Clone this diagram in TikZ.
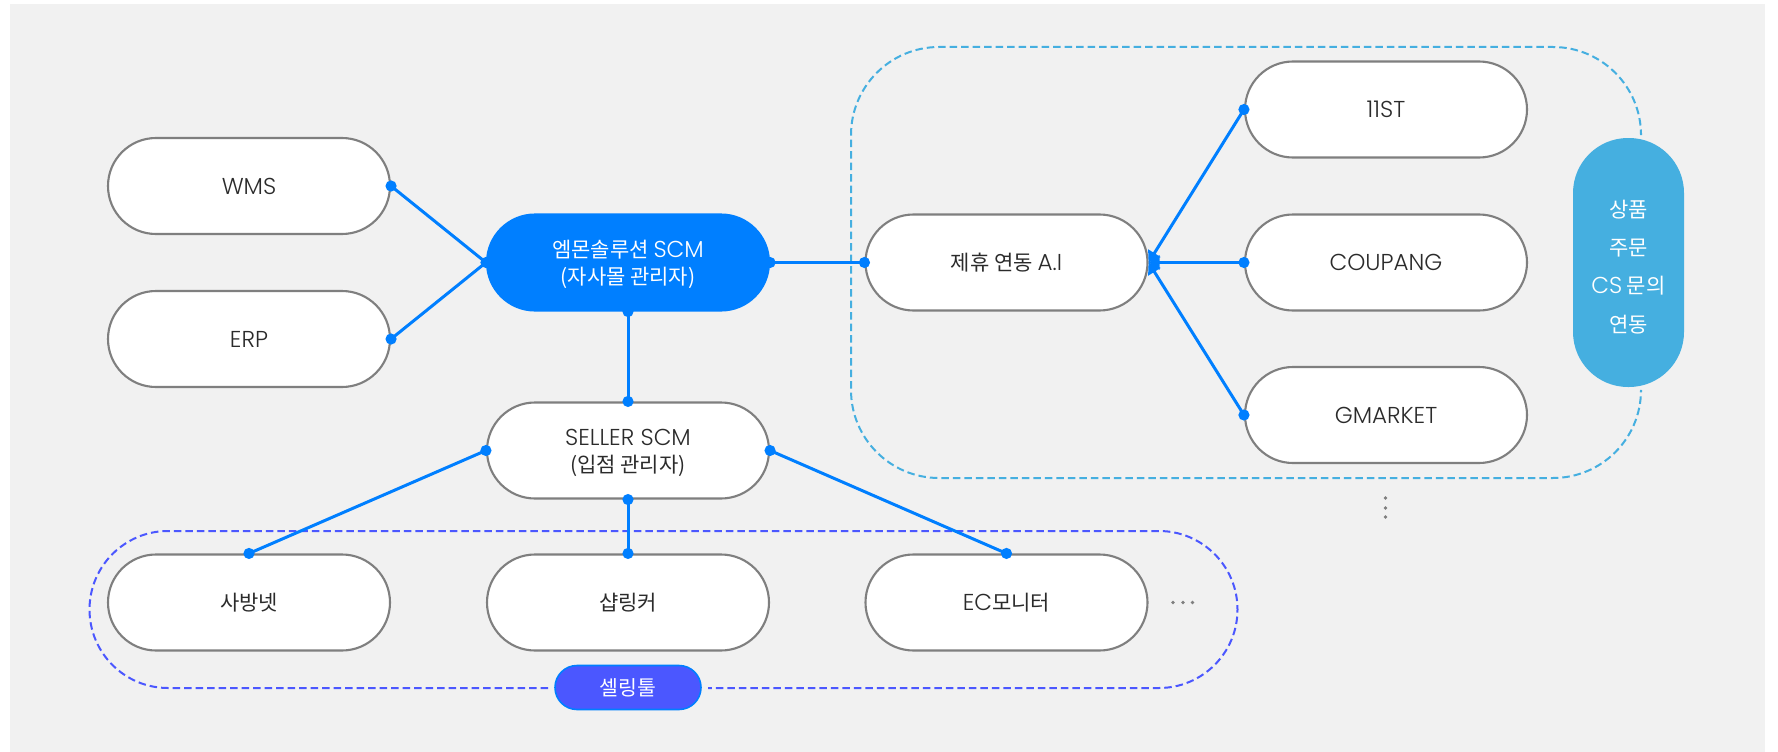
\documentclass[tikz,border=0pt]{standalone}
\usepackage{fontspec}
\setmainfont{Noto Sans CJK KR}
\newfontfamily\latinlight{Poppins Light}
\newcommand{\la}[1]{{\latinlight\fontsize{23}{26.5}\selectfont #1}}
\usetikzlibrary{arrows.meta}
\definecolor{pagebg}{HTML}{F1F1F1}
\definecolor{linkblue}{HTML}{007FFF}
\definecolor{skyblue}{HTML}{45AFE0}
\definecolor{violet}{HTML}{4B57FF}
\definecolor{pillgray}{HTML}{7F7F7F}
\definecolor{inktext}{HTML}{2B2B2B}
\newcommand{\linkdot}[1]{\fill[linkblue] (#1) circle (5.6);}
\tikzset{
  x=1pt,y=-1pt,
  pill/.style={rectangle,rounded corners=48pt,minimum width=282pt,minimum height=96pt,inner sep=0pt,
    draw=pillgray,line width=2.1pt,fill=white,text=inktext,align=center,font=\fontsize{21}{26.5}\selectfont,
    text height=20pt,text depth=4pt},
  twolines/.style={text height=50pt,text depth=7pt},
  link/.style={draw=linkblue,line width=3pt},
  linkin/.style={link,-{Triangle[length=11pt,width=14pt]}},
  ringa/.style={draw=skyblue,line width=2pt,dash pattern=on 7.5pt off 4pt},
  ringb/.style={draw=violet,line width=2pt,dash pattern=on 7.5pt off 4pt},
  dotty/.style={fill=pillgray,circle,inner sep=0pt,minimum size=3.8pt},
}
\begin{document}
\begin{tikzpicture}
\useasboundingbox (0,0) rectangle (1778,752);
\fill[white] (0,0) rectangle (1778,752);
\fill[pagebg] (10,4) rectangle (1765,752);
% dashed groups
\draw[ringa] (1641,133) -- (1641,135) arc[start angle=0,end angle=-90,radius=88] -- (939,47) arc[start angle=-90,end angle=-180,radius=88] -- (851,390) arc[start angle=180,end angle=90,radius=88] -- (1553,478) arc[start angle=90,end angle=0,radius=88] -- (1641,392);
\draw[ringb] (548,688) -- (168,688) arc[start angle=90,end angle=270,radius=78.5] -- (1159,531) arc[start angle=270,end angle=450,radius=78.5] -- (708,688);
% pills
\node[pill] (wms) at (249,186) {\la{WMS}};
\node[pill] (erp) at (249,339) {\la{ERP}};
\node[pill,twolines,fill=linkblue,draw=linkblue,text=white] (scm) at (628,262.5) {엠몬솔루션 \la{SCM}\\(자사몰 관리자)};
\node[pill] (ai) at (1006.5,262.5) {제휴 연동 \la{A.I}};
\node[pill] (st) at (1386,109.5) {\la{11ST}};
\node[pill] (cp) at (1386,262.5) {\la{COUPANG}};
\node[pill] (gm) at (1386,415) {\la{GMARKET}};
\node[pill,twolines] (seller) at (628,450.5) {\la{SELLER SCM}\\(입점 관리자)};
\node[pill] (sb) at (249,602.5) {사방넷};
\node[pill] (sl) at (628,602.5) {샵링커};
\node[pill] (ec) at (1006.5,602.5) {\la{EC}모니터};
\node[rectangle,rounded corners=55pt,minimum width=111pt,minimum height=249pt,inner sep=0pt,fill=skyblue,text=white,align=center,font=\fontsize{21}{38.3}\selectfont,text height=150pt,text depth=11pt] (sync) at (1628.5,262.5) {상품\\주문\\\la{CS} 문의\\연동};
\node[rectangle,rounded corners=22pt,minimum width=146pt,minimum height=44pt,inner sep=0pt,draw=linkblue,line width=1.6pt,fill=violet,text=white,font=\fontsize{20.5}{24}\selectfont] (tool) at (628,687.5) {셀링툴};
% connectors
\draw[link] (wms.east) -- (scm.west);
\draw[link] (erp.east) -- (scm.west);
\draw[link] (scm.east) -- (ai.west);
\draw[link] (scm.south) -- (seller.north);
\draw[link] (seller.west) -- (sb.north);
\draw[link] (seller.south) -- (sl.north);
\draw[link] (seller.east) -- (ec.north);
\draw[linkin] (st.west) -- (ai.east);
\draw[linkin] (cp.west) -- (ai.east);
\draw[linkin] (gm.west) -- (ai.east);
\linkdot{wms.east}\linkdot{erp.east}\linkdot{scm.west}\linkdot{scm.east}\linkdot{scm.south}
\linkdot{ai.west}\linkdot{seller.north}\linkdot{seller.west}\linkdot{seller.east}\linkdot{seller.south}
\linkdot{sb.north}\linkdot{sl.north}\linkdot{ec.north}\linkdot{st.west}\linkdot{cp.west}\linkdot{gm.west}
% ellipses
\node[dotty] (v1) at (1385.5,498) {};
\node[dotty] (v2) at (1385.5,508) {};
\node[dotty] (v3) at (1385.5,517) {};
\node[dotty] (h1) at (1173,602.5) {};
\node[dotty] (h2) at (1183,602.5) {};
\node[dotty] (h3) at (1192.5,602.5) {};
\end{tikzpicture}
\end{document}
